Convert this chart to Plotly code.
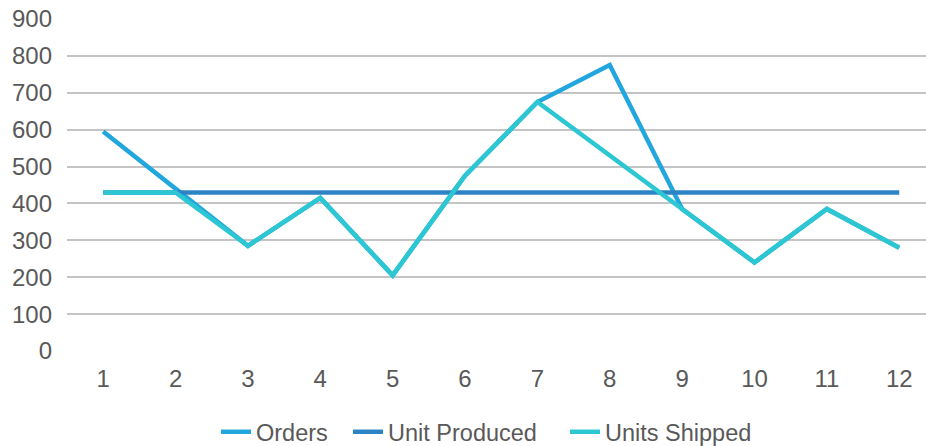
import plotly.graph_objects as go

months = [1, 2, 3, 4, 5, 6, 7, 8, 9, 10, 11, 12]
orders = [595, 440, 285, 415, 205, 475, 675, 775, 385, 240, 385, 280]
unit_produced = [430, 430, 430, 430, 430, 430, 430, 430, 430, 430, 430, 430]
units_shipped = [430, 430, 285, 415, 205, 475, 675, 530, 385, 240, 385, 280]
y_ticks = [0, 100, 200, 300, 400, 500, 600, 700, 800, 900]

series = [
    ("Orders", orders, "#21A6DD", "legend", 216),
    ("Unit Produced", unit_produced, "#2C84C6", "legend2", 348),
    ("Units Shipped", units_shipped, "#2CC7D3", "legend3", 565),
]

W, H = 926, 446
font = dict(family="Liberation Sans, Arial, sans-serif", size=24, color="#595959")
legend_font = dict(family="Liberation Sans, Arial, sans-serif", size=23.5, color="#595959")

fig = go.Figure()
legends = {}
for name, values, color, leg, left_px in series:
    fig.add_trace(go.Scatter(
        x=months, y=values, name=name, mode="lines", legend=leg,
        line=dict(color=color, width=4.5),
    ))
    legends[leg] = dict(
        orientation="h", xref="container", yref="container",
        x=left_px / W, xanchor="left", y=(H - 432) / H, yanchor="middle",
        font=legend_font, itemwidth=30, bgcolor="rgba(0,0,0,0)",
    )

fig.update_layout(
    width=W, height=H,
    margin=dict(l=67, r=0, t=19, b=95),
    paper_bgcolor="white", plot_bgcolor="white",
    font=font,
    showlegend=True,
    **legends,
    xaxis=dict(
        range=[0.5, 12.37], tickmode="array", tickvals=months,
        ticktext=[str(m) for m in months],
        showgrid=False, zeroline=False, showline=False, ticks="",
        tickfont=font, ticklabelstandoff=11,
    ),
    yaxis=dict(
        range=[0, 900], tickmode="array", tickvals=y_ticks,
        showgrid=True, gridcolor="#C4C4C4", gridwidth=2,
        zeroline=False, showline=False, ticks="",
        tickfont=font, ticklabelstandoff=14,
    ),
)

fig.write_html("out.html")
